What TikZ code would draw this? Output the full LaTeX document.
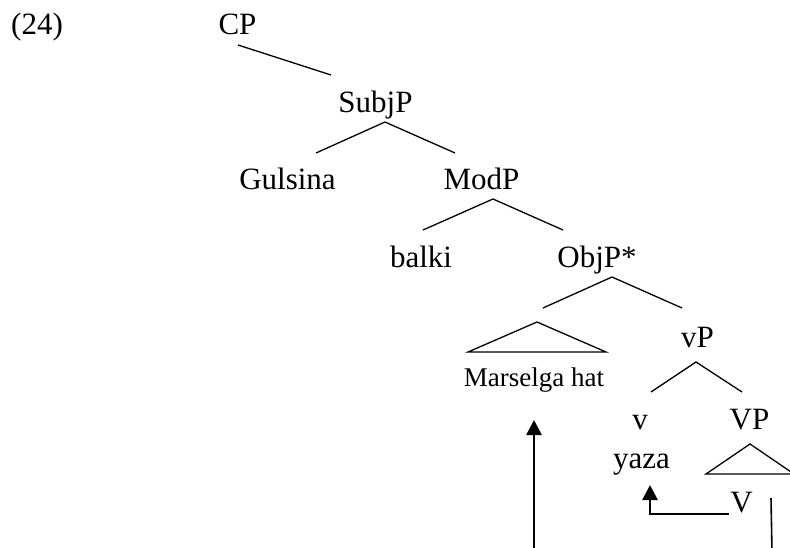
\documentclass[tikz,border=0pt]{standalone}
\usepackage{fontspec}
\setmainfont{Liberation Serif}
\usetikzlibrary{arrows.meta}

\tikzset{
  lbl/.style={anchor=base, inner sep=0pt, font=\fontsize{31}{37}\selectfont},
  lblsmall/.style={anchor=base, inner sep=0pt, font=\fontsize{27}{32}\selectfont},
  branch/.style={line width=1.3pt},
  movearrow/.style={line width=2.7pt, -{Triangle[length=15pt,width=15pt]}},
  trace/.style={line width=1.6pt}
}

\begin{document}
\begin{tikzpicture}[x=1pt, y=-1pt]
  \useasboundingbox (0,0) rectangle (790,548);
  \clip (0,0) rectangle (790,548);

  % labels
  \node[lbl, anchor=base west] (ex) at (11,35) {(24)};
  \node[lbl] (CP)      at (237.5,35)  {CP};
  \node[lbl] (SubjP)   at (375.5,113) {SubjP};
  \node[lbl] (Gulsina) at (287.5,190) {Gulsina};
  \node[lbl] (ModP)    at (481.5,190) {ModP};
  \node[lbl] (balki)   at (421,267)   {balki};
  \node[lbl] (ObjP)    at (597,267)   {ObjP*};
  \node[lblsmall] (Marselga) at (534,386) {Marselga hat};
  \node[lbl] (vP)      at (697.5,347) {vP};
  \node[lbl] (v)       at (640,429)   {v};
  \node[lbl] (VP)      at (749.5,429) {VP};
  \node[lbl] (yaza)    at (641.5,468) {yaza};
  \node[lbl] (V)       at (741.5,512) {V};

  % branch end points
  \coordinate (CP-b)       at (238,45);
  \coordinate (SubjP-t)    at (331,75);
  \coordinate (SubjP-b)    at (385,122);
  \coordinate (Gulsina-t)  at (316,153);
  \coordinate (ModP-t)     at (455,153);
  \coordinate (ModP-b)     at (493,199);
  \coordinate (balki-t)    at (423,230);
  \coordinate (ObjP-t)     at (563,230);
  \coordinate (ObjP-b)     at (612,277);
  \coordinate (Obj-t)      at (543,308);
  \coordinate (vP-t)       at (682,308);
  \coordinate (vP-b)       at (696,362);
  \coordinate (v-t)        at (651,392);
  \coordinate (VP-t)       at (742,392);
  % triangles
  \coordinate (Mtri-apex)  at (537,322);
  \coordinate (Mtri-l)     at (468,352);
  \coordinate (Mtri-r)     at (606,352);
  \coordinate (Vtri-apex)  at (750,444);
  \coordinate (Vtri-l)     at (706,474);
  \coordinate (Vtri-r)     at (794,474);
  % movement paths
  \coordinate (V-out)      at (729,514);
  \coordinate (yaza-corner) at (650,514);
  \coordinate (yaza-in)    at (650,485);
  \coordinate (obj-src)    at (534,552);
  \coordinate (obj-in)     at (534,420);
  \coordinate (V-trace-t)  at (771,498);
  \coordinate (V-trace-b)  at (772,552);

  % tree branches
  \draw[branch] (CP-b) -- (SubjP-t);
  \draw[branch] (Gulsina-t) -- (SubjP-b) -- (ModP-t);
  \draw[branch] (balki-t) -- (ModP-b) -- (ObjP-t);
  \draw[branch] (Obj-t) -- (ObjP-b) -- (vP-t);
  \draw[branch] (v-t) -- (vP-b) -- (VP-t);
  \draw[branch] (Mtri-l) -- (Mtri-apex) -- (Mtri-r) -- cycle;
  \draw[branch] (Vtri-l) -- (Vtri-apex) -- (Vtri-r) -- cycle;

  % head movement and object movement
  \draw[movearrow] (V-out) -- (yaza-corner) -- (yaza-in);
  \draw[movearrow] (obj-src) -- (obj-in);
  \draw[trace] (V-trace-t) -- (V-trace-b);
\end{tikzpicture}
\end{document}
